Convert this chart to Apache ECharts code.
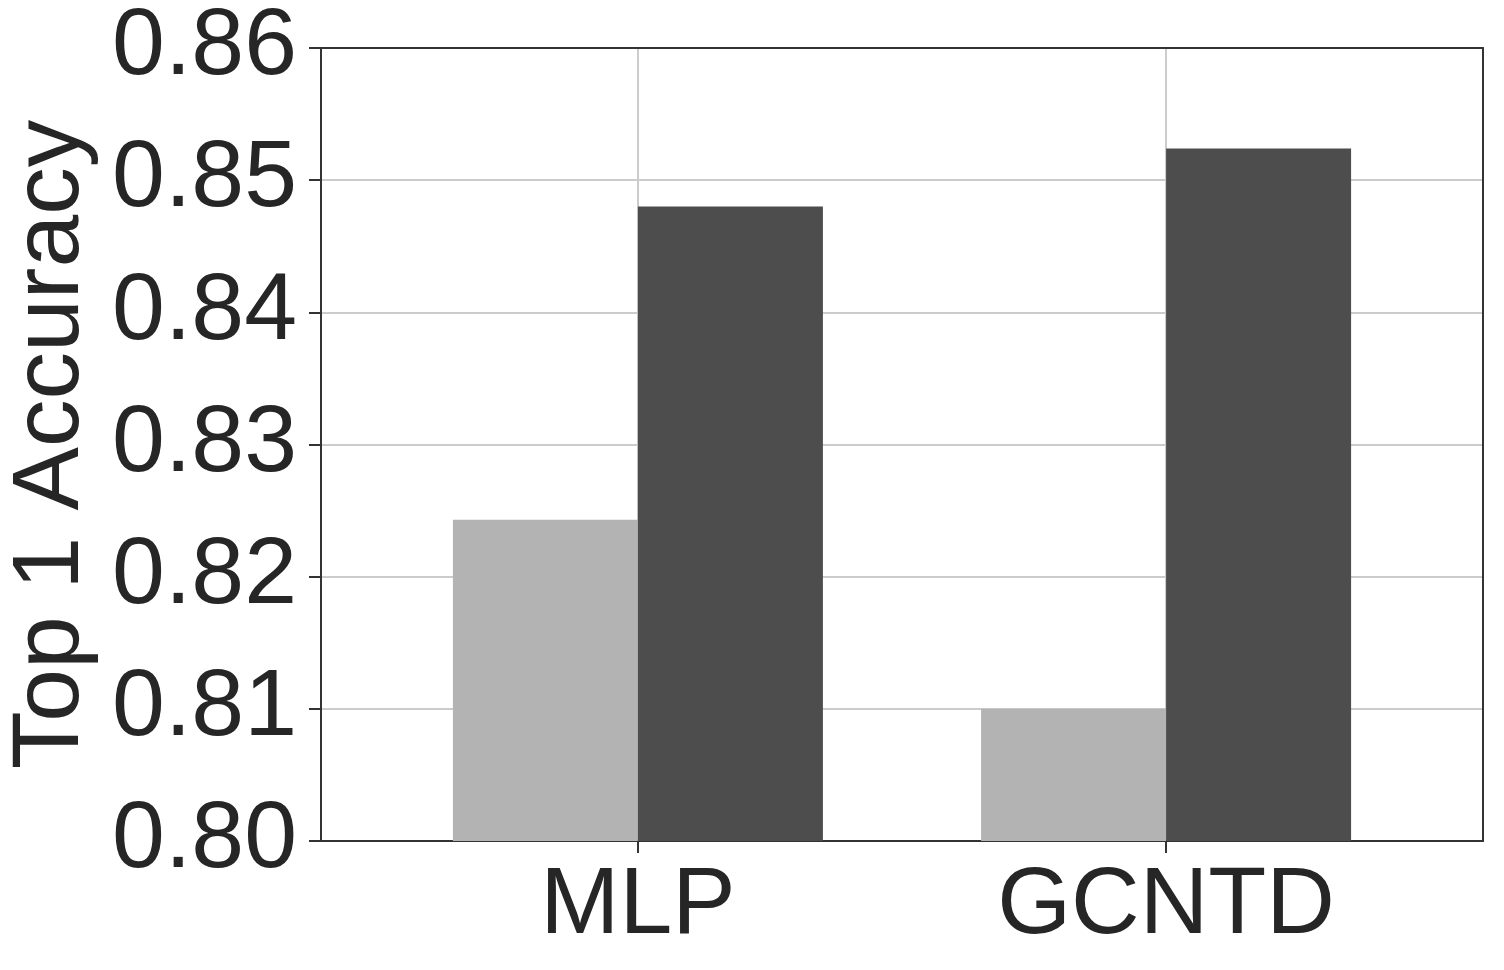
<!DOCTYPE html>
<html>
<head>
<meta charset="utf-8">
<script src="https://cdn.jsdelivr.net/npm/echarts@6/dist/echarts.min.js"></script>
<style>html,body{margin:0;padding:0;background:#fff}#chart{width:1504px;height:970px}</style>
</head>
<body>
<div id="chart"></div>
<script>
const categories = ['MLP', 'GCNTD'];
const categoryPositions = [0, 1];
const lightValues = [0.8243, 0.8100];
const darkValues = [0.8480, 0.8524];
const yMin = 0.80, yMax = 0.86, yStep = 0.01;
const xMin = -0.6, xMax = 1.6;

const chart = echarts.init(document.getElementById('chart'), null, {renderer: 'canvas'});
const txt = '#262626';
const frame = '#333333';
const font = '"Liberation Sans", Arial, sans-serif';
const frameAxisX = {type: 'value', min: xMin, max: xMax, position: 'top',
  axisLine: {show: true, onZero: false, lineStyle: {color: frame, width: 2}},
  axisTick: {show: false}, axisLabel: {show: false}, splitLine: {show: false}};
const frameAxisY = {type: 'value', min: yMin, max: yMax, position: 'right',
  axisLine: {show: true, onZero: false, lineStyle: {color: frame, width: 2}},
  axisTick: {show: false}, axisLabel: {show: false}, splitLine: {show: false}};
const option = {
  animation: false,
  backgroundColor: '#fff',
  grid: {left: 321, right: 21, top: 48, bottom: 129, containLabel: false, outerBoundsMode: 'none'},
  xAxis: [{
    type: 'value', min: xMin, max: xMax,
    axisLine: {show: true, onZero: false, lineStyle: {color: frame, width: 2}},
    axisTick: {show: true, length: 12, lineStyle: {color: frame, width: 2}, customValues: categoryPositions},
    axisLabel: {
      customValues: categoryPositions,
      fontSize: 95, color: txt, fontFamily: font, margin: 18,
      formatter: v => { const i = categoryPositions.indexOf(Math.round(v)); return (Math.abs(v - Math.round(v)) < 1e-6 && i >= 0) ? categories[i] : ''; }
    },
    splitLine: {show: true, showMinLine: true, showMaxLine: true, lineStyle: {color: '#cccccc', width: 2}}
  }, frameAxisX],
  yAxis: [{
    type: 'value', min: yMin, max: yMax, interval: yStep,
    name: 'Top 1 Accuracy', nameLocation: 'middle', nameRotate: 90, nameGap: 222,
    nameTextStyle: {fontSize: 95, color: txt, fontFamily: font},
    axisLine: {show: true, onZero: false, lineStyle: {color: frame, width: 2}},
    axisTick: {show: true, length: 12, lineStyle: {color: frame, width: 2}},
    axisLabel: {fontSize: 95, color: txt, fontFamily: font, margin: 24, formatter: v => v.toFixed(2)},
    splitLine: {show: true, showMinLine: false, showMaxLine: false, lineStyle: {color: '#cccccc', width: 2}}
  }, frameAxisY],
  series: [
    {type: 'bar', name: 'light', barWidth: 185, barGap: '0%', itemStyle: {color: '#b3b3b3'},
     data: categoryPositions.map((p, i) => [p, lightValues[i]])},
    {type: 'bar', name: 'dark', barWidth: 185, barGap: '0%', itemStyle: {color: '#4d4d4d'},
     data: categoryPositions.map((p, i) => [p, darkValues[i]])}
  ]
};
chart.setOption(option);
</script>
</body>
</html>
